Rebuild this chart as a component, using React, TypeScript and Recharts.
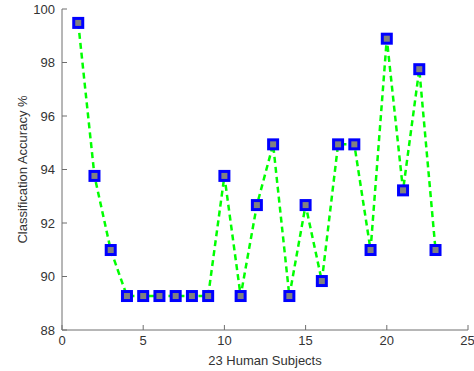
import React from 'react';
import { LineChart, Line, XAxis, YAxis, Label } from 'recharts';

const subjects = [1, 2, 3, 4, 5, 6, 7, 8, 9, 10, 11, 12, 13, 14, 15, 16, 17, 18, 19, 20, 21, 22, 23];
const accuracy = [
  99.48, 93.76, 90.99, 89.27, 89.27, 89.27, 89.27, 89.27, 89.27, 93.76, 89.27, 92.67,
  94.94, 89.27, 92.67, 89.83, 94.94, 94.94, 90.99, 98.89, 93.22, 97.75, 90.99,
];
const xTicks = [0, 5, 10, 15, 20, 25];
const yTicks = [88, 90, 92, 94, 96, 98, 100];

const data = subjects.map((s, i) => ({ subject: s, accuracy: accuracy[i] }));

const AXIS_COLOR = '#6e6e6e';
const TEXT_COLOR = '#333333';
const FONT = 'Liberation Sans, Arial, sans-serif';

// MATLAB-style square marker: gray face, blue edge
const SquareDot = (props: any) => {
  const { cx, cy } = props;
  if (cx == null || cy == null) return null;
  return (
    <rect x={cx - 4.5} y={cy - 4.5} width={9} height={9} fill="#808080" stroke="#0000ff" strokeWidth={3} />
  );
};

const NoTick = () => <g />;

export default function App() {
  return (
    <div style={{ position: 'absolute', left: 0, top: 0, background: '#fff', fontFamily: FONT }}>
      <LineChart width={474} height={371} data={data} margin={{ top: 9, right: 6, bottom: 0, left: 0 }}>
        <XAxis
          dataKey="subject"
          type="number"
          domain={[0, 25]}
          ticks={xTicks}
          height={41}
          stroke={AXIS_COLOR}
          tickSize={-5}
          tickMargin={11}
          tick={{ fill: TEXT_COLOR, fontSize: 13, fontFamily: FONT }}
        >
          <Label value="23 Human Subjects" position="insideBottom" offset={6} fill={TEXT_COLOR} fontSize={13} fontFamily={FONT} />
        </XAxis>
        <XAxis
          xAxisId="top"
          orientation="top"
          dataKey="subject"
          type="number"
          domain={[0, 25]}
          ticks={xTicks}
          height={0}
          stroke={AXIS_COLOR}
          tickSize={-5}
          tick={NoTick}
        />
        <YAxis
          type="number"
          domain={[88, 100]}
          ticks={yTicks}
          width={62}
          stroke={AXIS_COLOR}
          tickSize={-5}
          tickMargin={12}
          tick={{ fill: TEXT_COLOR, fontSize: 13, fontFamily: FONT }}
        >
          <Label
            value="Classification Accuracy %"
            angle={-90}
            position="insideLeft"
            offset={22}
            style={{ textAnchor: 'middle' }}
            fill={TEXT_COLOR}
            fontSize={13}
            fontFamily={FONT}
          />
        </YAxis>
        <YAxis
          yAxisId="right"
          orientation="right"
          type="number"
          domain={[88, 100]}
          ticks={yTicks}
          width={0}
          stroke={AXIS_COLOR}
          tickSize={-5}
          tick={NoTick}
        />
        <Line
          dataKey="accuracy"
          stroke="#00ff00"
          strokeWidth={2.5}
          strokeDasharray="6 4"
          type="linear"
          dot={<SquareDot />}
          activeDot={false}
          isAnimationActive={false}
        />
      </LineChart>
    </div>
  );
}
